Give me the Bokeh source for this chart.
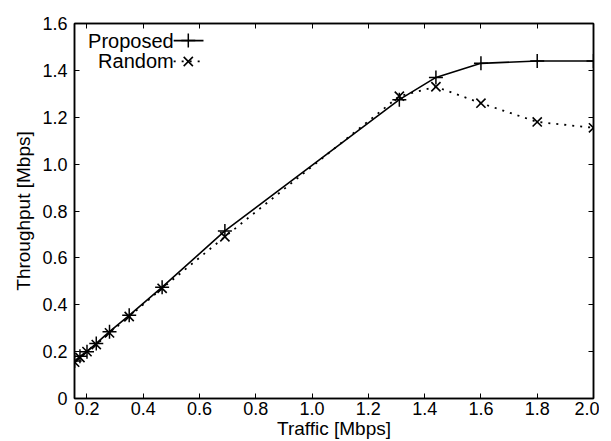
from bokeh.plotting import figure
from bokeh.models import Range1d, FixedTicker, NumeralTickFormatter, LinearAxis, Label, CustomJSTickFormatter
from bokeh.embed import file_html
from bokeh.resources import INLINE

traffic = [0.156, 0.175, 0.2, 0.233, 0.28, 0.35, 0.467, 0.69, 1.31, 1.44, 1.6, 1.8, 2.0]
proposed = [0.16, 0.18, 0.2, 0.235, 0.285, 0.355, 0.475, 0.715, 1.275, 1.37, 1.43, 1.44, 1.44]
random_ = [0.155, 0.175, 0.2, 0.23, 0.28, 0.35, 0.47, 0.69, 1.29, 1.33, 1.26, 1.18, 1.155]
x_ticks = [0.2, 0.4, 0.6, 0.8, 1.0, 1.2, 1.4, 1.6, 1.8, 2.0]
y_ticks = [0, 0.2, 0.4, 0.6, 0.8, 1.0, 1.2, 1.4, 1.6]
series_names = ["Proposed", "Random"]

FONT = "Liberation Sans"

p = figure(frame_width=519, frame_height=375, output_backend="svg", toolbar_location=None,
           x_range=Range1d(0.1556, 2.0), y_range=Range1d(0, 1.6),
           min_border_left=74, min_border_top=23, min_border_right=6, min_border_bottom=42)
p.grid.visible = False
p.outline_line_color = "black"
p.outline_line_width = 1.5
p.background_fill_color = "white"

def style(ax, labels=True):
    ax.axis_line_color = "black"
    ax.axis_line_width = 1.5
    ax.major_tick_in = 5
    ax.major_tick_out = 0
    ax.major_tick_line_width = 1
    ax.minor_tick_line_color = None
    ax.major_label_text_font = FONT
    ax.major_label_text_font_size = "18px"
    ax.major_label_text_color = "black"
    ax.axis_label_text_font = FONT
    ax.axis_label_text_font_size = "19px"
    ax.axis_label_text_font_style = "normal"
    ax.axis_label_text_color = "black"

p.xaxis.ticker = FixedTicker(ticks=x_ticks)
p.xaxis.formatter = NumeralTickFormatter(format="0.0")
p.xaxis.axis_label = "Traffic [Mbps]"
p.xaxis.major_label_standoff = 3
p.xaxis.axis_label_standoff = 0
p.yaxis.ticker = FixedTicker(ticks=y_ticks)
p.yaxis.formatter = NumeralTickFormatter(format="0.0")
p.yaxis.major_label_overrides = {0: "0"}
p.yaxis.axis_label = "Throughput [Mbps]"
p.yaxis.major_label_standoff = 7
p.yaxis.axis_label_standoff = 5
style(p.xaxis[0])
style(p.yaxis[0])

blank = CustomJSTickFormatter(code="return '';")
top = LinearAxis(ticker=FixedTicker(ticks=x_ticks), formatter=blank, major_label_standoff=0)
right = LinearAxis(ticker=FixedTicker(ticks=y_ticks), formatter=blank, major_label_standoff=0)
style(top, False)
style(right, False)
p.add_layout(top, "above")
p.add_layout(right, "right")

p.line(traffic, proposed, line_color="black", line_width=1.6)
p.scatter(traffic, proposed, marker="cross", size=14, line_color="black", line_width=1.5)
p.line(traffic, random_, line_color="black", line_width=1.8, line_dash="2 6")
p.scatter(traffic, random_, marker="x", size=13, line_color="black", line_width=1.6)

# legend (gnuplot style: text then sample)
leg_y = [1.527, 1.438]
p.line([0.508, 0.614], [leg_y[0]] * 2, line_color="black", line_width=1.6)
p.scatter([0.56], [leg_y[0]], marker="cross", size=14, line_color="black", line_width=1.5)
p.line([0.508, 0.614], [leg_y[1]] * 2, line_color="black", line_width=1.8, line_dash="2 6")
p.scatter([0.56], [leg_y[1]], marker="x", size=13, line_color="black", line_width=1.6)
for name, yy in zip(series_names, leg_y):
    p.add_layout(Label(x=0.508, y=yy, text=name, text_align="right", text_baseline="middle",
                       text_font=FONT, text_font_size="20px", text_color="black"))

open("out.html", "w").write(file_html(p, INLINE))
